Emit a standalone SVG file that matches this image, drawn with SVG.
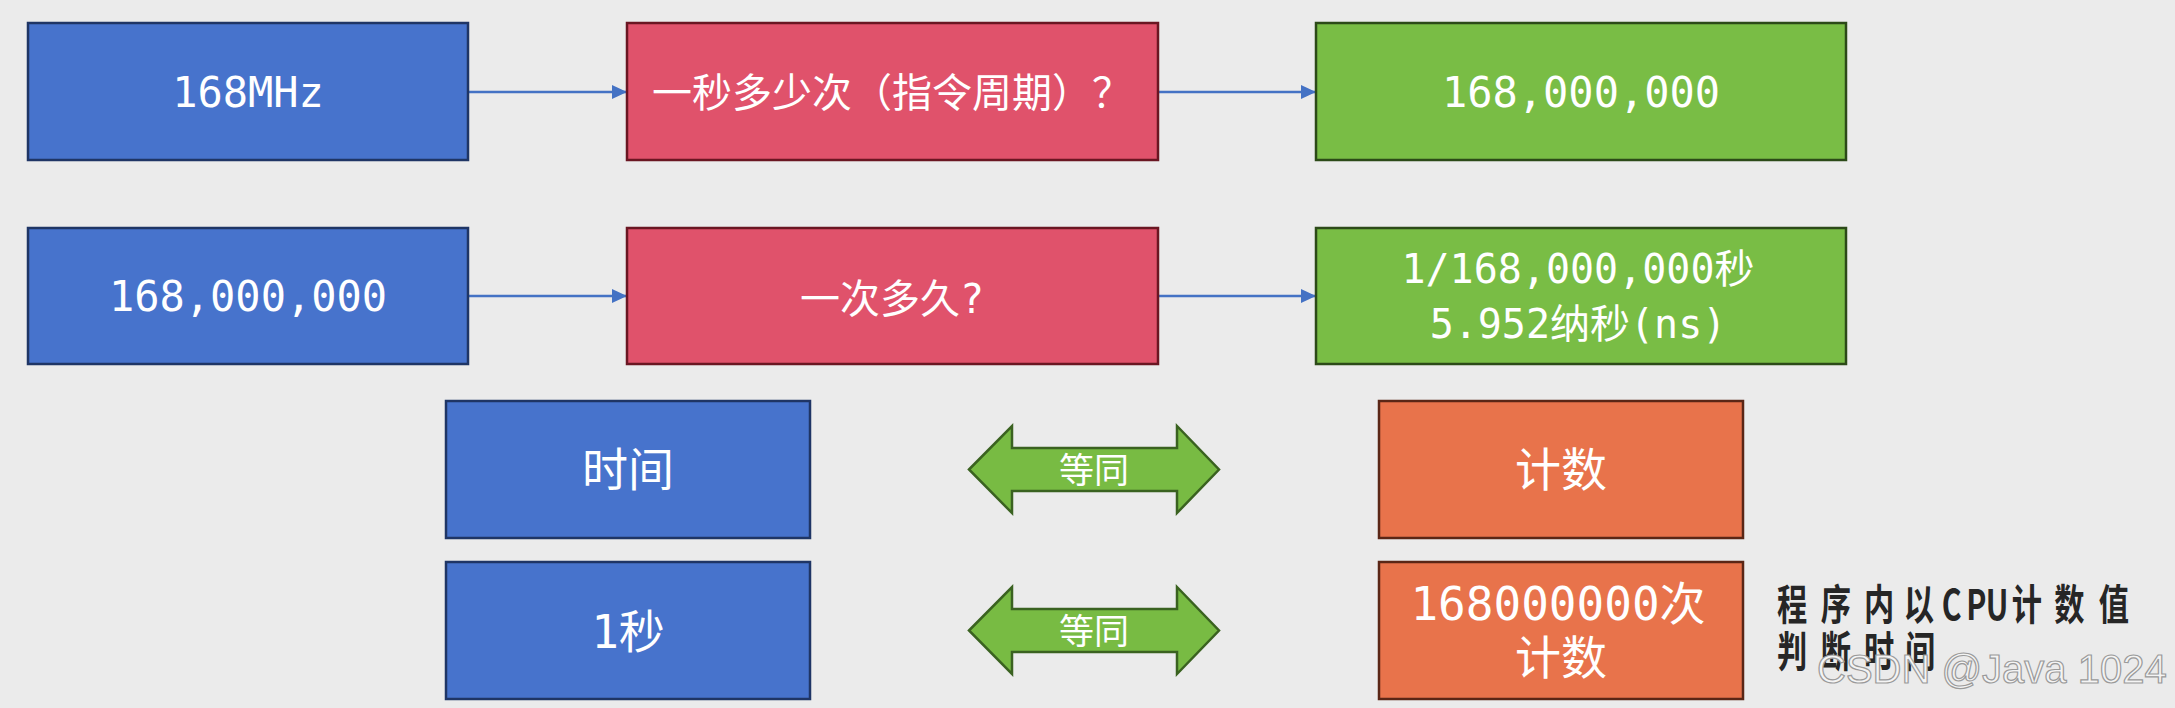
<svg xmlns="http://www.w3.org/2000/svg" width="2175" height="708" viewBox="0 0 2175 708">
<defs>
<style>
.box{stroke-width:2.5}
.blue{fill:#4773cc;stroke:#1f3565}
.red{fill:#e0526b;stroke:#6a1622}
.green{fill:#79bd45;stroke:#2c4a18}
.orange{fill:#e8734b;stroke:#5a2616}
.t{fill:#ffffff;font-family:"DejaVu Sans Mono","Noto Sans CJK SC",monospace;text-anchor:middle}
.cjk{fill:#ffffff;font-family:"Noto Sans CJK SC","Noto Sans",sans-serif;text-anchor:middle}
.conn{stroke:#4472c4;stroke-width:2.5;fill:none}
.dbl{fill:#78bb43;stroke:#3a6220;stroke-width:2.5;stroke-linejoin:miter}
.note{fill:#262626;font-family:"Noto Sans CJK SC","Noto Sans",sans-serif;font-weight:bold;font-size:42px}
.wm{fill:#f4f4f4;stroke:#9a9a9a;stroke-width:1.2;font-family:"Liberation Sans",Arial,sans-serif;font-size:40px}
</style>
<marker id="ah" viewBox="0 0 15 14" refX="15" refY="7" markerWidth="15" markerHeight="14" markerUnits="userSpaceOnUse" orient="auto">
<path d="M0,0 L15,7 L0,14 Z" fill="#4472c4"/>
</marker>
<polygon id="dblshape" points="969,469.5 1012,426 1012,448 1177,448 1177,426 1219,469.5 1177,513 1177,491 1012,491 1012,513"/>
</defs>
<rect x="0" y="0" width="2175" height="708" fill="#ebebeb"/>

<g id="connectors">
<line class="conn" x1="468" y1="92" x2="627" y2="92" marker-end="url(#ah)"/>
<line class="conn" x1="1158" y1="92" x2="1316" y2="92" marker-end="url(#ah)"/>
<line class="conn" x1="468" y1="296" x2="627" y2="296" marker-end="url(#ah)"/>
<line class="conn" x1="1158" y1="296" x2="1316" y2="296" marker-end="url(#ah)"/>
<g id="equiv1">
<use href="#dblshape" class="dbl"/>
<text class="cjk" x="1094" y="483" font-size="35">等同</text>
</g>
<g id="equiv2" transform="translate(0,161)">
<use href="#dblshape" class="dbl"/>
<text class="cjk" x="1094" y="483" font-size="35">等同</text>
</g>
</g>

<g id="n-168mhz">
<rect class="box blue" x="28" y="23" width="440" height="137"/>
<text class="t" x="248" y="107" font-size="42">168MHz</text>
</g>
<g id="n-per-second">
<rect class="box red" x="627" y="23" width="531" height="137"/>
<text class="cjk" x="892" y="107" font-size="40">一秒多少次（指令周期）？</text>
</g>
<g id="n-168000000-a">
<rect class="box green" x="1316" y="23" width="530" height="137"/>
<text class="t" x="1581" y="107" font-size="42">168,000,000</text>
</g>

<g id="n-168000000-b">
<rect class="box blue" x="28" y="228" width="440" height="136"/>
<text class="t" x="248" y="311" font-size="42">168,000,000</text>
</g>
<g id="n-how-long">
<rect class="box red" x="627" y="228" width="531" height="136"/>
<text class="t" x="892" y="313" font-size="40">一次多久?</text>
</g>
<g id="n-result">
<rect class="box green" x="1316" y="228" width="530" height="136"/>
<text class="t" x="1578" y="283" font-size="40">1/168,000,000秒</text>
<text class="t" x="1578" y="338" font-size="40">5.952纳秒(ns)</text>
</g>

<g id="n-time">
<rect class="box blue" x="446" y="401" width="364" height="137"/>
<text class="cjk" x="628" y="486" font-size="46">时间</text>
</g>
<g id="n-1s">
<rect class="box blue" x="446" y="562" width="364" height="137"/>
<text class="t" x="628" y="648" font-size="46">1秒</text>
</g>
<g id="n-count">
<rect class="box orange" x="1379" y="401" width="364" height="137"/>
<text class="cjk" x="1561" y="486" font-size="46">计数</text>
</g>
<g id="n-count-value">
<rect class="box orange" x="1379" y="562" width="364" height="137"/>
<text class="t" x="1558" y="620" font-size="46">168000000次</text>
<text class="cjk" x="1561" y="674" font-size="46">计数</text>
</g>

<g id="note" transform="scale(0.72,1)">
<text class="note" y="620" x="2468 2529 2589 2644 2697 2731 2758 2794 2853 2915">程序内以CPU计数值</text>
<text class="note" y="667" x="2468 2529 2589 2646">判断时间</text>
</g>
<text class="wm" x="1817" y="683">CSDN @Java 1024</text>
</svg>
